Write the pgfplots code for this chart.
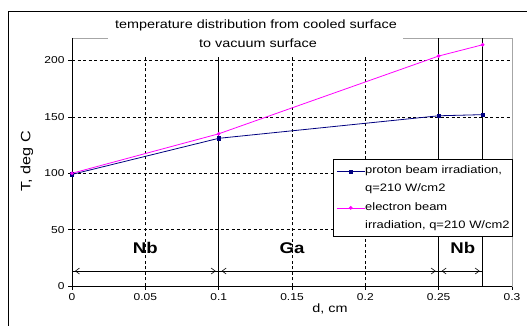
\documentclass[border=0pt]{standalone}
\usepackage{pgfplots}
\pgfplotsset{compat=1.18}
\usetikzlibrary{arrows.meta}
\usepackage{fontspec}
\setmainfont{Liberation Sans}[FakeStretch=1.2]
\definecolor{navyb}{RGB}{0,0,128}
\definecolor{magb}{RGB}{255,0,255}
\begin{document}
\begin{tikzpicture}[x=1pt,y=1pt]
\useasboundingbox (0,0) rectangle (527,326);
\draw[black, line width=0.8pt] (8,-2) -- (8,315) -- (530,315);
\begin{axis}[
  at={(72pt,40pt)}, anchor=south west,
  scale only axis, width=440pt, height=248pt,
  xmin=0, xmax=0.3, ymin=0, ymax=220,
  xtick={0,0.05,0.1,0.15,0.2,0.25,0.3},
  xticklabels={0,0.05,0.1,0.15,0.2,0.25,0.3},
  ytick={0,50,100,150,200},
  yticklabels={0,50,100,150,200},
  /pgf/number format/assume math mode=true,
  tick label style={font=\fontsize{10}{12}\selectfont},
  tick align=outside, major tick length=4pt,
  tick style={black, line width=0.6pt},
  xtick pos=bottom, ytick pos=left,
  ymajorgrids, grid style={black, line width=0.6pt, dash pattern=on 3pt off 2.5pt},
  axis line style={gray!70, line width=0.8pt},
  legend style={at={(axis cs:0.178,113)}, anchor=north west, draw=black, fill=white,
    font=\fontsize{10.8}{16}\selectfont, cells={align=left, anchor=west},
    nodes={inner xsep=0pt, inner ysep=1pt},
    inner xsep=3pt, inner ysep=6pt, row sep=7pt, line width=0.6pt},
  legend image post style={line width=0.8pt},
  legend image code/.code={\coordinate (lb) at (0pt,-8pt); \draw[#1] (0pt,8pt) -- (28pt,8pt); \draw[#1, only marks] plot coordinates {(14pt,8pt)};},
  clip=false,
]
% dashed vertical grid
\draw[black, line width=0.6pt, dash pattern=on 3pt off 2.5pt] (axis cs:0.05,0) -- (axis cs:0.05,220);
\draw[black, line width=0.6pt, dash pattern=on 3pt off 2.5pt] (axis cs:0.15,0) -- (axis cs:0.15,220);
\draw[black, line width=0.6pt, dash pattern=on 3pt off 2.5pt] (axis cs:0.2,0) -- (axis cs:0.2,220);
% solid layer boundaries
\draw[black, line width=0.8pt] (axis cs:0.1,0) -- (axis cs:0.1,220);
\draw[black, line width=0.8pt] (axis cs:0.25,0) -- (axis cs:0.25,220);
\draw[black, line width=0.8pt] (axis cs:0.28,0) -- (axis cs:0.28,220);
% black left and bottom axis lines
\draw[black, line width=0.8pt] (axis cs:0,220) -- (axis cs:0,0) -- (axis cs:0.3,0);
% thickness arrows
\draw[black, line width=0.6pt] (axis cs:0,13.3) -- (axis cs:0.28,13.3);
\draw[black, line width=0.6pt, {Straight Barb[length=4pt,width=6pt]}-{Straight Barb[length=4pt,width=6pt]}, shorten <=3pt, shorten >=3pt] (axis cs:0,13.3) -- (axis cs:0.1,13.3);
\draw[black, line width=0.6pt, {Straight Barb[length=4pt,width=6pt]}-{Straight Barb[length=4pt,width=6pt]}, shorten <=3pt, shorten >=3pt] (axis cs:0.1,13.3) -- (axis cs:0.25,13.3);
\draw[black, line width=0.6pt, {Straight Barb[length=4pt,width=6pt]}-{Straight Barb[length=4pt,width=6pt]}, shorten <=3pt, shorten >=3pt] (axis cs:0.25,13.3) -- (axis cs:0.28,13.3);
\node[font=\fontsize{15.5}{18}\selectfont\bfseries] at (axis cs:0.05,34) {Nb};
\node[font=\fontsize{15.5}{18}\selectfont\bfseries] at (axis cs:0.15,34) {Ga};
\node[font=\fontsize{15.5}{18}\selectfont\bfseries] at (axis cs:0.2665,34) {Nb};
\addplot[navyb, line width=0.8pt, mark=square*, mark size=1.6pt, mark options={solid, fill=navyb}]
  coordinates {(0,99) (0.1,131) (0.25,151) (0.28,152)};
\addlegendentry{proton beam irradiation,\\[2pt]q=210 W/cm2}
\addplot[magb, line width=0.8pt, mark=*, mark size=1.4pt, mark options={solid, fill=magb}]
  coordinates {(0,100) (0.1,135) (0.25,204) (0.28,214)};
\addlegendentry{electron beam\\[2pt]irradiation, q=210 W/cm2}
\end{axis}
% title over the plot top
\fill[white] (108,269) rectangle (403,311);
\node[font=\fontsize{12}{14}\selectfont] at (256,301) {temperature distribution from cooled surface};
\node[font=\fontsize{12}{14}\selectfont] at (258,283) {to vacuum surface};
% axis labels
\node[font=\fontsize{12}{14}\selectfont] at (330,17) {d, cm};
\node[font=\fontsize{13.5}{16}\selectfont, rotate=90] at (27,165) {T, deg C};
\end{tikzpicture}
\end{document}
